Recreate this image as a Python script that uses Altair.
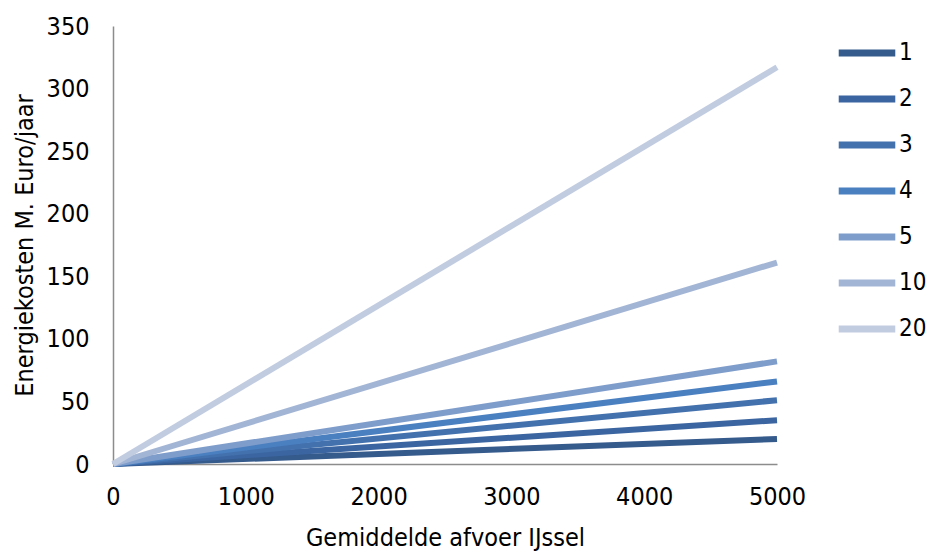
import altair as alt
import pandas as pd

# Series (legend label) and the yearly energy cost reached at the highest discharge
series = ["1", "2", "3", "4", "5", "10", "20"]
cost_at_start = [0, 0, 0, 0, 0, 0, 0]
cost_at_end = [20, 35, 51, 66, 82, 161, 317]
discharge = [0, 5000]
colors = ["#355a8c", "#3b65a0", "#4371ae", "#4a7fc0", "#7f9dcb", "#a3b5d5", "#c1cce1"]

rows = []
for i, s in enumerate(series):
    rows.append({"serie": s, "afvoer": discharge[0], "kosten": cost_at_start[i], "order": i})
    rows.append({"serie": s, "afvoer": discharge[1], "kosten": cost_at_end[i], "order": i})
df = pd.DataFrame(rows)

FONT = "DejaVu Sans Condensed, Liberation Sans, sans-serif"
SIZE = 25

chart = (
    alt.Chart(df)
    .mark_line(strokeWidth=6, strokeCap="butt")
    .encode(
        x=alt.X(
            "afvoer:Q",
            title="Gemiddelde afvoer IJssel",
            scale=alt.Scale(domain=[0, 5000], nice=False),
            axis=alt.Axis(values=[0, 1000, 2000, 3000, 4000, 5000], format="d",
                          ticks=False, grid=False, labelFlush=False,
                          labelPadding=20, titlePadding=16),
        ),
        y=alt.Y(
            "kosten:Q",
            title="Energiekosten M. Euro/jaar",
            scale=alt.Scale(domain=[0, 350], nice=False),
            axis=alt.Axis(values=[0, 50, 100, 150, 200, 250, 300, 350],
                          ticks=False, grid=False, labelPadding=24, titlePadding=9),
        ),
        color=alt.Color(
            "serie:N",
            sort=series,
            scale=alt.Scale(domain=series, range=colors),
            legend=alt.Legend(
                title=None, orient="none", legendX=722, legendY=-5,
                symbolType="stroke", symbolSize=3200, symbolStrokeWidth=7,
                labelFontSize=24, labelFont=FONT, rowPadding=-7.2, labelOffset=0,
                labelColor="#000000",
            ),
        ),
        detail="serie:N",
        order="order:Q",
    )
    .properties(
        width=664,
        height=438,
        autosize=alt.AutoSizeParams(type="none"),
        padding={"left": 113, "top": 26, "right": 152, "bottom": 88},
    )
    .configure_view(stroke=None)
    .configure_axis(
        domainColor="#8c8c8c", domainWidth=1.5,
        labelFont=FONT, labelFontSize=SIZE, labelColor="#000000",
        titleFont=FONT, titleFontSize=SIZE, titleFontWeight="normal", titleColor="#000000",
    )
)

chart.save("out.html", embed_options={"renderer": "svg", "actions": False})
